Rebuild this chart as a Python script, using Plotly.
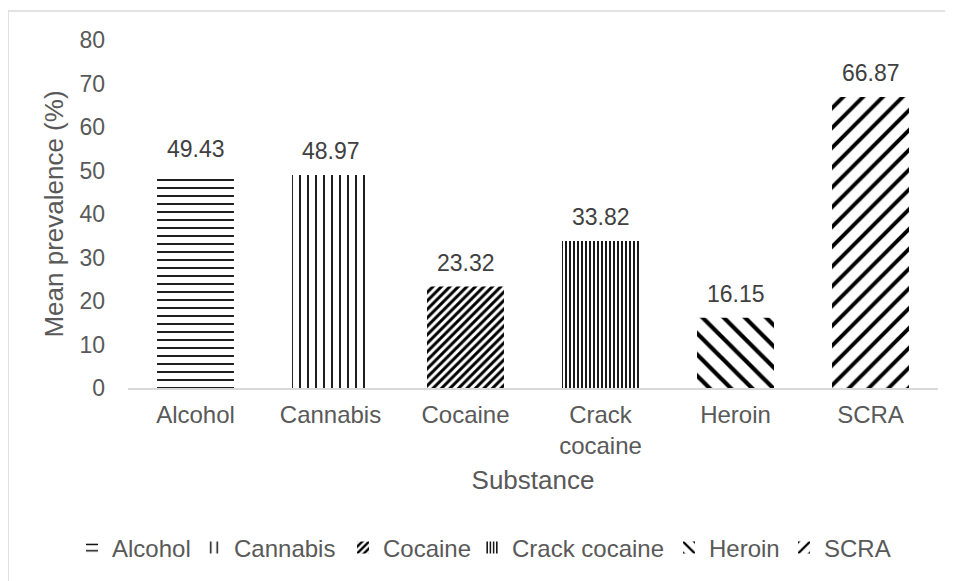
import plotly.graph_objects as go

categories = ["Alcohol", "Cannabis", "Cocaine", "Crack cocaine", "Heroin", "SCRA"]
tick_labels = ["Alcohol", "Cannabis", "Cocaine", "Crack<br>cocaine", "Heroin", "SCRA"]
values = [49.43, 48.97, 23.32, 33.82, 16.15, 66.87]
shapes_pat = ["-", "|", "/", "|", "\\", "/"]
pat_size = [8, 8, 6, 4, 15, 14]
pat_solid = [0.22, 0.22, 0.5, 0.45, 0.28, 0.28]
legend_text_x = [105, 227, 376, 505, 702, 817]  # legend text start, figure px

FONT = "Liberation Sans, Arial, sans-serif"

W, H = 945, 573
L, T, R, B = 120, 32, 930, 381  # plot area in figure px
pw, ph = R - L, B - T

fig = go.Figure()
legends = {}
for i, (cat, lab, v, sh, sz, so) in enumerate(zip(categories, tick_labels, values, shapes_pat, pat_size, pat_solid)):
    lg = "legend" if i == 0 else f"legend{i + 1}"
    fig.add_trace(go.Bar(
        x=[lab], y=[v], name=cat, legend=lg,
        width=0.57,
        marker=dict(color="black", line=dict(width=0),
                    pattern=dict(shape=sh, size=sz, solidity=so,
                                 fgcolor="black", bgcolor="white", fillmode="replace")),
    ))
    fig.add_annotation(x=lab, y=v, xref="x", yref="y", text=f"{v:.2f}",
                       showarrow=False, yanchor="bottom", yshift=9,
                       font=dict(size=23, color="#404040", family=FONT))
    legends[lg] = dict(orientation="h", x=(legend_text_x[i] - 41 - L) / pw, xanchor="left",
                       y=(B - 540) / ph, yanchor="middle",
                       font=dict(size=24, color="#595959"), itemwidth=30,
                       bgcolor="rgba(0,0,0,0)")

fig.update_layout(
    width=W, height=H,
    margin=dict(l=L, r=W - R, t=T, b=H - B),
    paper_bgcolor="white", plot_bgcolor="white",
    barmode="overlay",
    font=dict(family=FONT, size=22, color="#595959"),
    showlegend=True,
    xaxis=dict(
        categoryorder="array", categoryarray=tick_labels,
        showline=True, linecolor="#d9d9d9", linewidth=1.5,
        showgrid=False, ticks="", ticklabelstandoff=4,
        tickfont=dict(size=24, color="#595959"),
        title=dict(text="Substance", font=dict(size=26, color="#595959"), standoff=13),
        automargin=False,
    ),
    yaxis=dict(
        range=[0, 80], dtick=10, showgrid=False, zeroline=False, showline=False,
        ticks="", ticklabelstandoff=22,
        tickfont=dict(size=23, color="#595959"),
        title=dict(text="Mean prevalence (%)", font=dict(size=26, color="#595959"), standoff=8),
        automargin=False,
    ),
    shapes=[dict(type="rect", xref="paper", yref="paper",
                 x0=(0 - L) / pw, x1=(W + 10 - L) / pw,
                 y0=(B - H - 10) / ph, y1=(B - 3) / ph,
                 line=dict(color="#d9d9d9", width=1.5), fillcolor="rgba(0,0,0,0)", layer="below")],
    **legends,
)

fig.write_html("out.html")
